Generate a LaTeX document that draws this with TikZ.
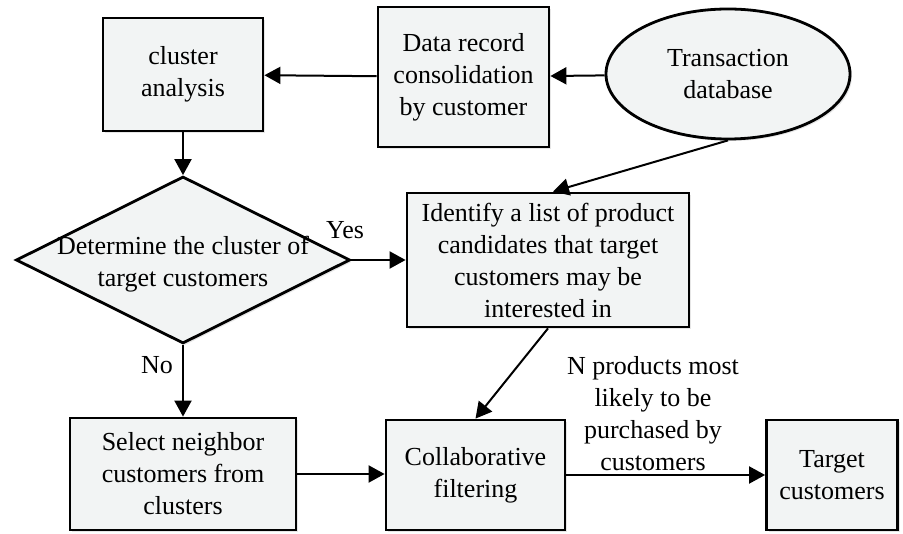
\documentclass[tikz,border=0pt]{standalone}
\usepackage{fontspec}
\setmainfont{Liberation Serif}
\usepackage{tikz}
\usetikzlibrary{arrows.meta,shapes.geometric,shadows}
\definecolor{BoxFill}{HTML}{F2F4F4}

\begin{document}
\begin{tikzpicture}[
    x=1pt,y=-1pt,
    every node/.style={font=\fontsize{26}{32}\selectfont},
    procbox/.style={draw,line width=2.8pt,fill=BoxFill,align=center,inner sep=0pt,
      drop shadow={opacity=0.2,shadow xshift=2pt,shadow yshift=-2pt}},
    dbnode/.style={procbox,ellipse},
    decision/.style={procbox,diamond},
    flow/.style={line width=2pt,-{Triangle[length=16pt,width=17pt]}}
  ]
    \useasboundingbox (0,0) rectangle (903,534);

    % nodes
    \node[procbox,minimum width=160pt,minimum height=113pt] (cluster) at (183,74.5) {cluster\\analysis};
    \node[procbox,minimum width=171pt,minimum height=140pt] (consol) at (463.5,77) {Data record\\consolidation\\by customer};
    \node[dbnode,minimum width=244pt,minimum height=130pt] (tdb) at (728,74) {Transaction\\database};
    \node[decision,minimum width=334pt,minimum height=167pt] (decide) at (183,260) {};
    \node[align=center] (decidetext) at (183,264) {Determine the cluster of\\target customers};
    \node[procbox,minimum width=282pt,minimum height=134pt] (identify) at (548,260) {Identify a list of product\\candidates that target\\customers may be\\interested in};
    \node[procbox,minimum width=226pt,minimum height=112pt] (neighbor) at (183,474) {Select neighbor\\customers from\\clusters};
    \node[procbox,minimum width=179pt,minimum height=110pt] (collab) at (475.5,475) {Collaborative\\filtering};
    \node[procbox,minimum width=131pt,minimum height=110pt] (target) at (832,475) {Target\\customers};

    % labels
    \node (yes) at (345,230) {Yes};
    \node (no) at (157,365) {No};
    \node[align=center] (nprod) at (653,414) {N products most\\likely to be\\purchased by\\customers};

    % connectors
    \draw[flow] (consol) -- (cluster);
    \draw[flow] (tdb) -- (consol);
    \draw[flow] (tdb.south) -- ([xshift=5pt]identify.north);
    \draw[flow] (cluster) -- (decide);
    \draw[flow] (decide.east) -- (decide.east -| identify.west);
    \draw[flow] (decide) -- (neighbor);
    \draw[flow] (identify.south) -- (collab.north);
    \draw[flow] (neighbor.east) -- (neighbor.east -| collab.west);
    \draw[flow] (collab.east) -- (collab.east -| target.west);
  \end{tikzpicture}
\end{document}
